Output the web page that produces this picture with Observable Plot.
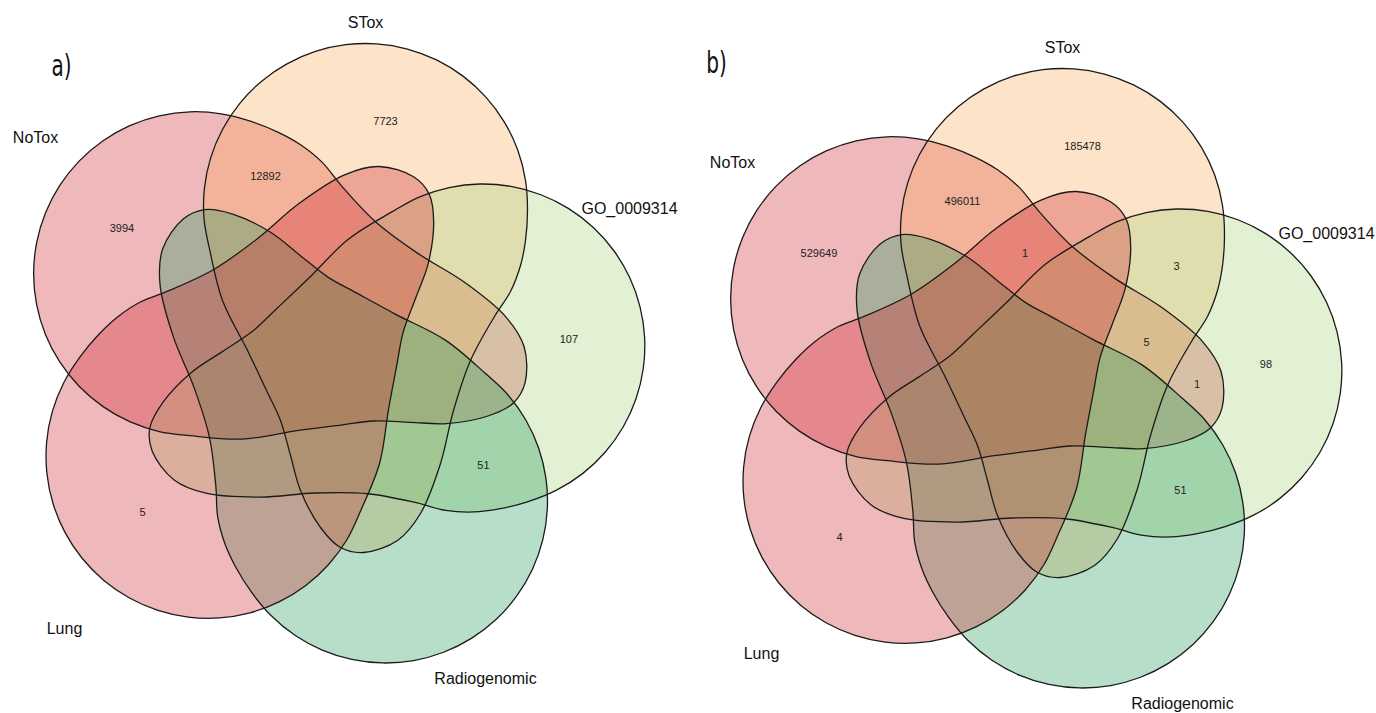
<!DOCTYPE html>
<html>
<head>
<meta charset="utf-8">
<script src="https://cdn.jsdelivr.net/npm/d3@7"></script>
<script src="https://cdn.jsdelivr.net/npm/@observablehq/plot@0.6"></script>
<style>
  html, body { margin: 0; padding: 0; background: #fff; }
  #figure { display: flex; width: 1376px; height: 713px; }
  #figure > div, #figure svg { display: block; }
</style>
</head>
<body>
<div id="figure"></div>
<script>
// ---- sets ----
const setNames = ["NoTox", "STox", "GO_0009314", "Radiogenomic", "Lung"];
const setColors = ["#ce2831", "#f9aa58", "#a7d27d", "#229b58", "#ce2831"];
// place of each set around the five-fold ring, clockwise starting from the top
const ringIndex = {STox: 0, GO_0009314: 1, Radiogenomic: 2, Lung: 3, NoTox: 4};

// ---- region counts, panel a ----
const regionsA = ["NoTox", "STox", "GO_0009314", "Lung", "NoTox&STox", "GO_0009314&Radiogenomic"];
const countsA = [3994, 7723, 107, 5, 12892, 51];

// ---- region counts, panel b ----
const regionsB = ["NoTox", "STox", "GO_0009314", "Lung", "NoTox&STox", "NoTox&STox&Lung",
                  "STox&GO_0009314", "NoTox&STox&GO_0009314", "NoTox&GO_0009314", "GO_0009314&Radiogenomic"];
const countsB = [529649, 185478, 98, 4, 496011, 1, 3, 5, 1, 51];

// ---- geometry: one set outline (the set at ring position 0), relative to the diagram centre ----
// a large round head plus a tapering lobe that reaches across the centre
const headCenter = [38, -151], headRadius = 162;
const headSide = [[198, -176], [200, -146], [198, -116], [193, -91], [183, -65], [167, -40]];
const lobe = [
  [143, 4], [126, 54], [113, 107], [93, 157], [70, 184],
  [36, 196], [13, 191], [-7, 171], [-27, 134], [-37, 99], [-47, 64], [-61, 34], [-80, -6], [-105, -56]
];
const outline = [];
for (let a = 164; a <= 340; a += 11) {
  const t = a * Math.PI / 180;
  outline.push([headCenter[0] + headRadius * Math.cos(t), headCenter[1] + headRadius * Math.sin(t)]);
}
outline.push(...headSide, ...lobe);

// label anchors for each kind of region, in the frame of ring position 0
const regionAnchor = {only: [58, -235], prev: [-62, -180], skip: [51, 165], tri: [122, -39]};
// set-name placement around the diagram
const nameAnchor = {NoTox: [-292, -219], STox: [38, -334], GO_0009314: [302, -148], Radiogenomic: [158, 322], Lung: [-263, 272]};

function rotate([x, y], k) {
  const t = k * 72 * Math.PI / 180, c = Math.cos(t), s = Math.sin(t);
  return [x * c - y * s, x * s + y * c];
}

function anchorFor(key) {
  const ks = key.split("&").map(n => ringIndex[n]).sort((a, b) => a - b);
  let type = "only", k = ks[0];
  if (ks.length === 2) {
    const [a, b] = ks, d = (b - a + 5) % 5;
    if (d === 1) { type = "prev"; k = b; }
    else if (d === 4) { type = "prev"; k = a; }
    else if (d === 2) { type = "skip"; k = a; }
    else { type = "skip"; k = b; }
  } else if (ks.length === 3) {
    type = "tri";
    k = ks.find(m => ks.includes((m + 4) % 5) && ks.includes((m + 1) % 5));
  }
  return rotate(regionAnchor[type], k);
}

const shapes = setNames.flatMap(name =>
  outline.map(p => {
    const [x, y] = rotate(p, ringIndex[name]);
    return {set: name, x, y};
  })
);

function panel(letter, regions, counts, cx, cy, letterPos) {
  const W = 688, H = 713;
  const fills = setNames.map((name, i) =>
    Plot.line(shapes.filter(d => d.set === name), {
      x: "x", y: "y", curve: "catmull-rom-closed",
      fill: setColors[i], fillOpacity: 0.33, stroke: "none"
    })
  );
  const outlines = Plot.line(shapes, {
    x: "x", y: "y", z: "set", curve: "catmull-rom-closed",
    fill: "none", stroke: "#1b1b1b", strokeWidth: 1.3
  });
  const countData = regions.map((key, i) => {
    const [x, y] = anchorFor(key);
    return {x, y, label: String(counts[i])};
  });
  const nameData = setNames.map(name => ({x: nameAnchor[name][0], y: nameAnchor[name][1], label: name}));
  const svg = Plot.plot({
    width: W, height: H,
    margin: 0,
    x: {domain: [-cx, W - cx], range: [0, W], axis: null},
    y: {domain: [-cy, H - cy], range: [0, H], axis: null},
    style: {background: "#fff", fontFamily: "'Liberation Sans', Arial, sans-serif"},
    marks: [
      ...fills,
      outlines,
      Plot.text(countData, {x: "x", y: "y", text: "label", fontSize: 11, fill: "#222"}),
      Plot.text(nameData, {x: "x", y: "y", text: "label", fontSize: 16, fill: "#111"}),
      Plot.text([letter], {x: letterPos[0] - cx, y: letterPos[1] - cy, text: d => d,
        fontSize: 31, fill: "#111", className: "panel-letter",
        fontFamily: "'Liberation Sans Narrow', 'DejaVu Sans Condensed', sans-serif"})
    ]
  });
  // narrow, tall panel letter
  svg.querySelectorAll(".panel-letter text").forEach(t => {
    t.setAttribute("transform", (t.getAttribute("transform") || "") + " scale(0.72,1)");
  });
  return svg;
}

const fig = document.getElementById("figure");
fig.append(panel("a)", regionsA, countsA, 327, 356, [61, 66]));
fig.append(panel("b)", regionsB, countsB, 336, 381, [28, 63]));
</script>
</body>
</html>
